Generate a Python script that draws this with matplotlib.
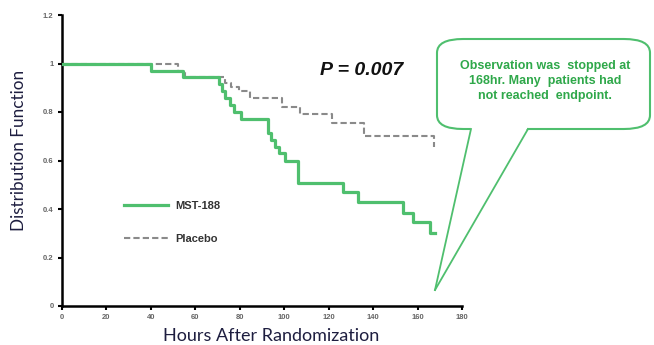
import numpy as np
import matplotlib
matplotlib.use("Agg")
import matplotlib.pyplot as plt
from matplotlib.patches import FancyBboxPatch, Polygon
from matplotlib.lines import Line2D

# Kaplan-Meier style step data
mst_times = [0, 40, 54.5, 70.5, 72, 73.5, 75.5, 77.5, 80.5, 92.5, 94, 96, 97.5,
             100.5, 106, 126.6, 133, 153.5, 158, 165.6]
mst_surv = [1.0, 0.971, 0.943, 0.914, 0.886, 0.857, 0.829, 0.800, 0.771, 0.714,
            0.686, 0.657, 0.629, 0.600, 0.506, 0.471, 0.430, 0.385, 0.348, 0.302]
pla_times = [0, 52, 55.5, 73.5, 76, 79.5, 84.5, 99, 107, 121.5, 135.8, 167.4]
pla_surv = [1.0, 0.971, 0.943, 0.920, 0.905, 0.885, 0.856, 0.822, 0.792,
            0.753, 0.702, 0.657]
end_time = 168

xticks = list(range(0, 181, 20))
yticks = [0, 0.2, 0.4, 0.6, 0.8, 1.0, 1.2]
ytick_labels = ["0", "0.2", "0.4", "0.6", "0.8", "1", "1.2"]

green = "#4fbf6e"
W, H = 654, 345

fig = plt.figure(figsize=(W / 100, H / 100), dpi=100)
ax = fig.add_axes([62 / W, 1 - 306 / H, 400 / W, 291 / H])

ax.step(mst_times + [end_time], mst_surv + [mst_surv[-1]], where="post",
        color=green, lw=2.3, zorder=3)
ax.step(pla_times + [pla_times[-1]], pla_surv[:-1] + [pla_surv[-1], pla_surv[-1]],
        where="post", color="#8a8a8a", lw=1.5, ls=(0, (3, 1.5)), zorder=2)

ax.set_xlim(0, 180)
ax.set_ylim(0, 1.2)
ax.set_xticks(xticks)
ax.set_yticks(yticks)
ax.set_yticklabels(ytick_labels)
for s in ["top", "right"]:
    ax.spines[s].set_visible(False)
for s in ["left", "bottom"]:
    ax.spines[s].set_linewidth(1.8)
ax.tick_params(direction="out", length=3, width=1.5, labelsize=5.5,
               labelcolor="#666666", pad=3)
for lab in ax.get_xticklabels() + ax.get_yticklabels():
    lab.set_fontweight("bold")
    lab.set_family("Liberation Sans")

ax.set_xlabel("Hours After Randomization", fontsize=13, color="#1e1e40",
              family="Lato")
ax.set_ylabel("Distribution Function", fontsize=12.3, color="#1e1e40",
              family="Lato")
ax.xaxis.set_label_coords(0.5225, -0.075, transform=ax.transAxes)
ax.yaxis.set_label_coords(-0.088, 0.533, transform=ax.transAxes)

# legend
handles = [Line2D([], [], color=green, lw=2.3),
           Line2D([], [], color="#8a8a8a", lw=1.5, ls=(0, (3, 1.5)))]
leg = ax.legend(handles, ["MST-188", "Placebo"], loc="upper left",
                bbox_to_anchor=(0.13, 0.395), frameon=False, handlelength=4.0,
                labelspacing=2.1, handletextpad=0.6,
                prop={"family": "Liberation Sans", "weight": "bold", "size": 8})
for t in leg.get_texts():
    t.set_color("#333333")

ax.text(135, 0.97, "P = 0.007", fontsize=14, fontweight="bold", style="italic",
        family="Liberation Sans", ha="center", va="center", color="#111111")

# callout box
def fx(px):
    return px / W

def fy(py):
    return 1 - py / H

box = FancyBboxPatch((fx(437), fy(129)), fx(650) - fx(437), fy(39) - fy(129),
                     boxstyle="round,pad=0,rounding_size=0.04",
                     transform=fig.transFigure, facecolor="white",
                     edgecolor=green, lw=1.5, zorder=5, clip_on=False)
fig.add_artist(box)
cover = Polygon([(fx(471), fy(127)), (fx(435), fy(290)), (fx(528), fy(127))],
                closed=True, transform=fig.transFigure, facecolor="white",
                edgecolor="none", zorder=6)
fig.add_artist(cover)
for p0, p1 in [((471, 129), (435, 290)), ((528, 129), (435, 290))]:
    fig.add_artist(Line2D([fx(p0[0]), fx(p1[0])], [fy(p0[1]), fy(p1[1])],
                          transform=fig.transFigure, color=green, lw=1.3,
                          zorder=7))
fig.text(fx(545), fy(81), "Observation was  stopped at\n168hr. Many  patients had\nnot reached  endpoint.",
         ha="center", va="center", fontsize=9, fontweight="bold",
         color="#2fa84a", family="Liberation Sans", linespacing=1.35, zorder=8)

fig.savefig("out.png", dpi=100)
